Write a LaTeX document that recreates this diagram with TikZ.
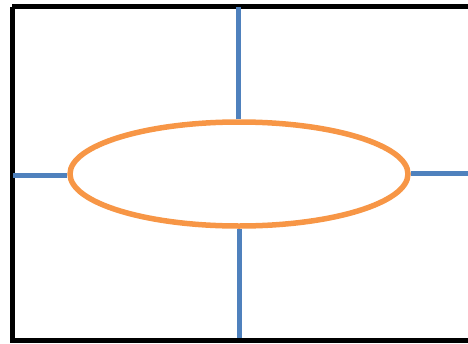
\documentclass[tikz,border=0pt]{standalone}
\usepackage{tikz}
\usetikzlibrary{shapes.geometric}
\definecolor{orange}{RGB}{247, 150, 70}
\definecolor{blue}{RGB}{79, 129, 189}

\begin{document}
\begin{tikzpicture}[x=1pt, y=-1pt]
        \useasboundingbox (0,0) rectangle (468,343);

        % Frame (right side runs off the picture)
        \draw[line width=5pt] (12,6.5) -- (490,6.5);
        \draw[line width=5pt] (12.5,6.5) -- (12.5,340) -- (490,340);
        \coordinate (frametop) at (238,7);
        \coordinate (framebottom) at (239.5,338);
        \coordinate (frameleft) at (13,175);
        \coordinate (frameright) at (490,173.5);

        % Oval in the middle
        \node[ellipse, draw=orange, line width=5.5pt, inner sep=0pt,
              minimum width=338pt, minimum height=104pt] (oval) at (239,174) {};

        % Blue spokes from the oval out to the frame
        \draw[blue, line width=5pt] (oval.north -| frametop) -- (frametop);
        \draw[blue, line width=5pt] (oval.south -| framebottom) -- (framebottom);
        \draw[blue, line width=5pt] (oval.west |- frameleft) -- (frameleft);
        \draw[blue, line width=5pt] (oval.east |- frameright) -- (frameright);
    \end{tikzpicture}
\end{document}
